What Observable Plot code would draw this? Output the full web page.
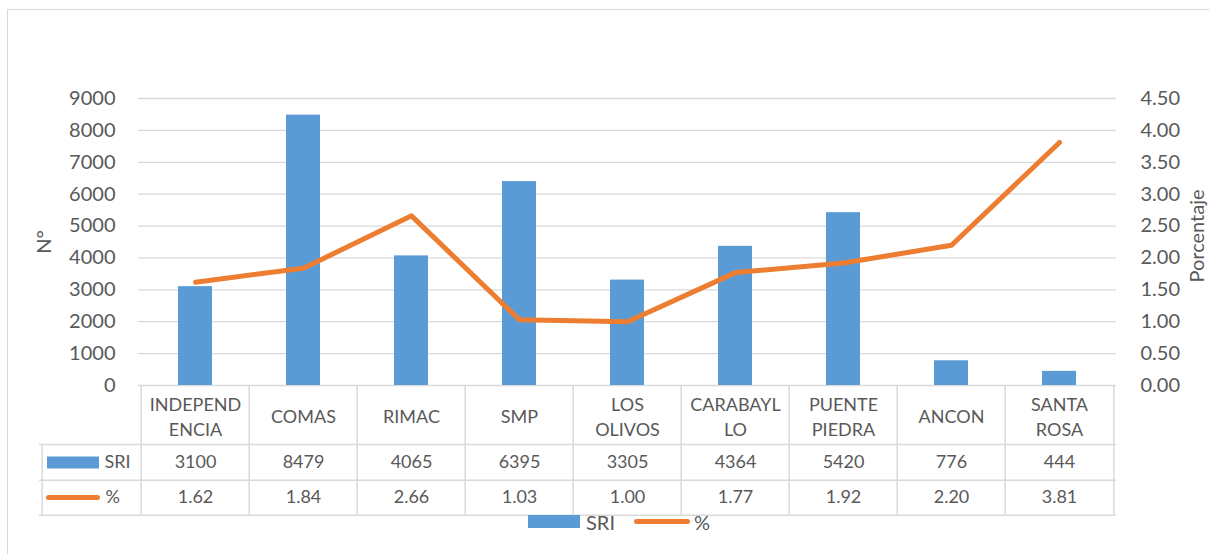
<!DOCTYPE html>
<html>
<head>
<meta charset="utf-8">
<script src="https://cdn.jsdelivr.net/npm/d3@7"></script>
<script src="https://cdn.jsdelivr.net/npm/@observablehq/plot@0.6"></script>
<style>
  html, body { margin: 0; padding: 0; background: #fff; }
  #wrap { position: relative; width: 1209px; height: 554px; overflow: hidden; font-family: Lato, "Open Sans", sans-serif; color: #595959; }
  #border { position: absolute; left: 7px; top: 9px; width: 1300px; height: 700px; border-left: 1.5px solid #d9d9d9; border-top: 1.5px solid #d9d9d9; }
  #chart { position: absolute; left: 0; top: 0; }
  #legend { position: absolute; left: 528px; top: 514px; height: 15px; display: flex; align-items: center; font-size: 20px; color: #595959; }
  #legend .sw-bar { width: 52px; height: 13px; background: #5B9BD5; margin-right: 6px; }
  #legend .sw-line { width: 56px; height: 5px; border-radius: 3px; background: #ED7D31; margin: 0 4px 0 19px; }
</style>
</head>
<body>
<div id="wrap">
  <div id="border"></div>
  <div id="chart"></div>
  <div id="legend"></div>
</div>
<script>
// ---- data ----
const categories = ["INDEPENDENCIA", "COMAS", "RIMAC", "SMP", "LOS OLIVOS", "CARABAYLLO", "PUENTE PIEDRA", "ANCON", "SANTA ROSA"];
const headerLabels = ["INDEPEND\nENCIA", "COMAS", "RIMAC", "SMP", "LOS\nOLIVOS", "CARABAYL\nLO", "PUENTE\nPIEDRA", "ANCON", "SANTA\nROSA"];
const sriValues = [3100, 8479, 4065, 6395, 3305, 4364, 5420, 776, 444];
const pctValues = [1.62, 1.84, 2.66, 1.03, 1.00, 1.77, 1.92, 2.20, 3.81];
const leftTicks = [0, 1000, 2000, 3000, 4000, 5000, 6000, 7000, 8000, 9000];
const rightTicks = [0, 0.5, 1, 1.5, 2, 2.5, 3, 3.5, 4, 4.5];
const seriesNames = ["SRI", "%"];
const leftLabel = "N°";
const rightLabel = "Porcentaje";

// ---- layout / style ----
const W = 1209, H = 554;
const mL = 138, mR = 93, mT = 98, mB = 169;
const step = (W - mL - mR) / categories.length;
const frameH = H - mT - mB;
const ratio = 9000 / 4.5; // right axis -> left axis units
const BLUE = "#5B9BD5", ORANGE = "#ED7D31", GRID = "#d9d9d9", TXT = "#595959";
const rowHeader = 59, rowSRI = 94.7, rowPct = 129.7; // bottom edges of table rows below the x axis
const keyLeft = 99; // width of the legend column of the table

const data = categories.map((c, i) => ({
  cat: c, label: headerLabels[i], sri: sriValues[i], pct: pctValues[i]
}));

const tableLine = {stroke: GRID, strokeWidth: 1.5};
const cellText = {frameAnchor: "bottom", lineAnchor: "middle", textAnchor: "middle", fontSize: 18, fill: TXT};

const marks = [
  Plot.ruleY(leftTicks, {stroke: GRID, strokeWidth: 1.3}),
  Plot.barY(data, {x: "cat", y: "sri", fill: BLUE}),
  Plot.line(data, {x: "cat", y: d => d.pct * ratio, stroke: ORANGE, strokeWidth: 5, strokeLinecap: "round", strokeLinejoin: "round"}),
  Plot.axisY({anchor: "left", ticks: leftTicks, tickFormat: d => String(d), tickSize: 0, tickPadding: 23, fontSize: 20, label: null, fill: TXT}),
  Plot.axisY({anchor: "right", ticks: rightTicks.map(v => v * ratio), tickFormat: d => (d / ratio).toFixed(2), tickSize: 0, tickPadding: 24, fontSize: 20, label: null, fill: TXT}),
  Plot.text([leftLabel], {frameAnchor: "left", textAnchor: "middle", lineAnchor: "middle", dx: -94, rotate: -90, fontSize: 20, fill: TXT}),
  Plot.text([rightLabel], {frameAnchor: "right", textAnchor: "middle", lineAnchor: "middle", dx: 81, dy: -6, rotate: -90, fontSize: 20, fill: TXT}),
  // data table: vertical lines
  Plot.ruleX(categories, {x: d => d, dx: -step / 2, insetTop: frameH, insetBottom: -rowPct, ...tableLine}),
  Plot.ruleX([categories[categories.length - 1]], {x: d => d, dx: step / 2, insetTop: frameH, insetBottom: -rowPct, ...tableLine}),
  Plot.ruleX([categories[0]], {x: d => d, dx: -step / 2 - keyLeft, insetTop: frameH + rowHeader, insetBottom: -rowPct, ...tableLine}),
  // data table: horizontal lines
  ...[rowHeader, rowSRI, rowPct].map(off => Plot.ruleY([0], {dy: off, insetLeft: -keyLeft, ...tableLine})),
  // table header and values
  Plot.text(data, {x: "cat", text: "label", dy: 29.5, lineHeight: 25 / 18, ...cellText}),
  Plot.text(data, {x: "cat", text: d => String(d.sri), dy: 77, ...cellText}),
  Plot.text(data, {x: "cat", text: d => d.pct.toFixed(2), dy: 112, ...cellText}),
  // legend keys inside the table
  Plot.ruleY([0], {dy: 77, insetLeft: -91, insetRight: (W - mR) - 99, stroke: BLUE, strokeWidth: 12}),
  Plot.ruleY([0], {dy: 112, insetLeft: -89.5, insetRight: (W - mR) - 97.5, stroke: ORANGE, strokeWidth: 5, strokeLinecap: "round"}),
  Plot.text([seriesNames[0]], {...cellText, frameAnchor: "bottom-left", textAnchor: "start", dx: -34, dy: 77}),
  Plot.text([seriesNames[1]], {...cellText, frameAnchor: "bottom-left", textAnchor: "start", dx: -33, dy: 112})
];

const chart = Plot.plot({
  width: W,
  height: H,
  marginLeft: mL,
  marginRight: mR,
  marginTop: mT,
  marginBottom: mB,
  style: {background: "transparent", overflow: "visible", fontFamily: "Lato, 'Open Sans', sans-serif", color: TXT},
  x: {type: "band", domain: categories, paddingInner: 0.685, paddingOuter: 0.3425, axis: null},
  y: {domain: [0, 9000], axis: null},
  marks
});
document.getElementById("chart").appendChild(chart);

// bottom legend
const legend = document.getElementById("legend");
legend.innerHTML = `<div class="sw-bar"></div><span>${seriesNames[0]}</span><div class="sw-line"></div><span>${seriesNames[1]}</span>`;
</script>
</body>
</html>
